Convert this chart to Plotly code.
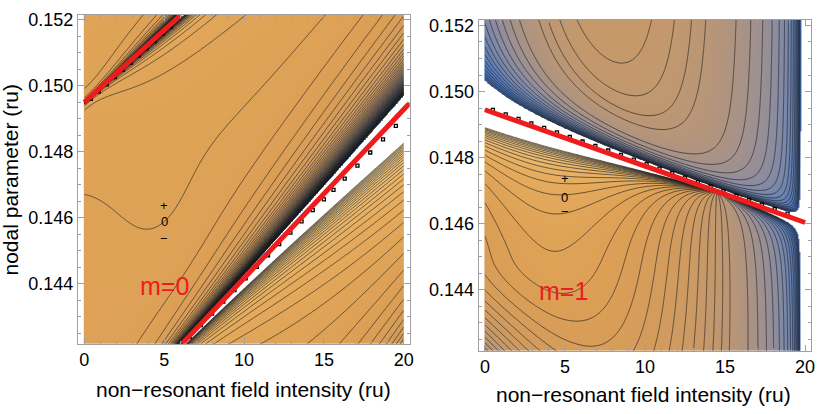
import numpy as np
import plotly.graph_objects as go

FONT = "Liberation Sans, Arial, sans-serif"

# ---------------- values ----------------
x_ticks = [0, 5, 10, 15, 20]
y_ticks = [0.144, 0.146, 0.148, 0.150, 0.152]
y_tick_text = ["0.144", "0.146", "0.148", "0.150", "0.152"]

# red resonance lines
m0_upper_x = [0.0, 6.05]
m0_upper_y = [0.14950, 0.15215]
m0_lower_x = [5.95, 20.36]
m0_lower_y = [0.14210, 0.14947]
m1_line_x = [0.0, 20.0]
m1_line_y = [0.14945, 0.14604]

# black numerical points along the resonances
m0_pts_a_x = [0.4, 0.9, 1.4, 1.9, 2.4, 2.9, 3.4, 3.9, 4.4, 4.9, 5.4]
m0_pts_a_y = [0.149605, 0.149824, 0.150043, 0.150262, 0.150481, 0.150700,
              0.150919, 0.151138, 0.151357, 0.151576, 0.151795]
m0_pts_b_x = [6.6, 7.3, 8.0, 8.7, 9.4, 10.1, 10.8, 11.5, 12.2, 12.9, 13.6,
              14.3, 15.0, 15.6, 16.3, 17.1, 17.9, 18.7, 19.5]
m0_pts_b_y = [0.142393, 0.142753, 0.143102, 0.143461, 0.143810, 0.144169,
              0.144518, 0.144867, 0.145206, 0.145555, 0.145894, 0.146234,
              0.146563, 0.146850, 0.147190, 0.147580, 0.147980, 0.148380,
              0.148790]
m1_pts_x = [0.5, 1.3, 2.1, 2.9, 3.7, 4.5, 5.3, 6.1, 6.9, 7.7, 8.5, 9.3, 10.1,
            10.9, 11.7, 12.5, 13.3, 14.1, 14.9, 15.7, 16.5, 17.3, 18.1, 18.9]
m1_pts_y = [0.149445, 0.149308, 0.149172, 0.149036, 0.148899, 0.148763,
            0.148626, 0.148490, 0.148354, 0.148217, 0.148081, 0.147944,
            0.147808, 0.147672, 0.147535, 0.147399, 0.147262, 0.147126,
            0.146990, 0.146853, 0.146717, 0.146580, 0.146444, 0.146308]

# sign labels of the zero contour
m0_sign_y = [0.14636, 0.14588, 0.14536]
m1_sign_y = [0.14736, 0.14679, 0.14636]
sign_text = ["+", "0", "\u2212"]

# contour levels (scaled units) for each panel
m0_levels = [dict(start=-0.975, end=0.975, size=0.025)]
m1_levels = [dict(start=-0.96, end=-0.06, size=0.06),
             dict(start=0.035, end=0.98, size=0.035)]

# ---------------- field model ----------------
xg = np.linspace(0.0, 20.0, 321)
yg = np.linspace(0.14214, 0.15219, 451)
X, YV = np.meshgrid(xg, yg)
Y = (YV - 0.147) * 1000.0


def line_at(xs, px, py):
    return (py[0] + (py[1] - py[0]) * (xs - px[0]) / (px[1] - px[0]) - 0.147) * 1000.0


def safe(d):
    return np.where(np.abs(d) < 1e-6, 1e-6, d)


def pole(k, d, lam=3.5):
    return -k / safe(d) * np.exp(-np.abs(d) / lam)


# m = 0 : set of resonances with field dependent coupling
yB = line_at(X, m0_lower_x, m0_lower_y)
yA = line_at(X, m0_upper_x, m0_upper_y)
P = yA - yB
yC = yB - P
kc = 0.005 + 0.0018 * X ** 2
ka = 0.005 + 0.065 * (1.0 - np.exp(-(X / 5.0) ** 2))
bump = 0.0064 * np.exp(-((X - 5.0) / 3.0) ** 2 - ((Y + 1.0) / 2.5) ** 2)
z0 = (0.45 + 0.003 * (Y + 0.1) + bump + pole(ka, Y - yA, 1.5)
      + pole(kc, Y - yB) + pole(kc, Y - yC))
z0 = np.round(np.clip(z0, -3, 3), 6)

# m = 1
y0 = line_at(X, m1_line_x, m1_line_y)
d = safe(Y - y0)
Au = 0.08 + 0.75 * np.exp(-X / 5.0)
Al = 0.026 * (14.5 - X)
wall = 0.28 / (20.05 - X)
V = 0.002 * np.maximum(X - 4.0, 0.0) ** 2
zu = 0.3 - 0.33 * np.exp(-X / 3.0) - Au / d - V - wall
pxx = np.where(X < 5, 0.004, 0.0028)
L0 = 0.40 - pxx * (X - 5.0) ** 2 - 0.04 * np.exp(-X / 4.0) * np.maximum(0.0, -Y - 2.0) ** 2
zl = L0 - Al / d - wall
z1 = np.where(d > 0, zu, zl)
z1 = np.round(np.clip(z1, -3, 3), 5)

cstops = [(-1.00, "#3c66ae"), (-0.80, "#4671b6"), (-0.60, "#5a7db8"),
          (-0.40, "#7787ad"), (-0.20, "#978f97"), (0.00, "#b5957a"),
          (0.20, "#cc9a64"), (0.40, "#db9e55"), (0.55, "#e5ab5c"),
          (0.75, "#edbf78"), (1.00, "#f5dca8")]
colorscale = [[0.0, "#ffffff"]]
for v, c in cstops:
    f = (v + 1) / 2
    f = min(max(f, 0.0002), 0.9998)
    colorscale.append([f, c])
colorscale.append([1.0, "#ffffff"])

fig = go.Figure()


def add_panel(z, lvs, xa, ya):
    fig.add_trace(go.Heatmap(x=xg, y=yg, z=z, colorscale=colorscale, zmin=-1, zmax=1,
                             zsmooth="best", showscale=False, hoverinfo="skip",
                             xaxis=xa, yaxis=ya))
    for lv in lvs:
        fig.add_trace(go.Contour(x=xg, y=yg, z=z, showscale=False, hoverinfo="skip",
                                 contours=dict(coloring="none", **lv),
                                 line=dict(color="rgba(35,35,35,0.72)", width=0.9),
                                 xaxis=xa, yaxis=ya))


add_panel(z0, m0_levels, "x", "y")
add_panel(z1, m1_levels, "x2", "y2")

mk = dict(symbol="square-open", size=3, color="black", line=dict(width=1.3, color="black"))
for px, py, xa, ya in [(m0_pts_a_x, m0_pts_a_y, "x", "y"), (m0_pts_b_x, m0_pts_b_y, "x", "y"),
                       (m1_pts_x, m1_pts_y, "x2", "y2")]:
    fig.add_trace(go.Scatter(x=px, y=py, mode="markers", marker=mk, xaxis=xa, yaxis=ya,
                             showlegend=False, hoverinfo="skip"))

red = "#ee1c1c"
for lx, ly, xa, ya in [(m0_upper_x, m0_upper_y, "x", "y"), (m0_lower_x, m0_lower_y, "x", "y"),
                       (m1_line_x, m1_line_y, "x2", "y2")]:
    fig.add_trace(go.Scatter(x=lx, y=ly, mode="lines", line=dict(color=red, width=5),
                             xaxis=xa, yaxis=ya, showlegend=False, hoverinfo="skip"))

ann = []
for yv, t in zip(m0_sign_y, sign_text):
    ann.append(dict(x=5, y=yv, xref="x", yref="y", text=t, showarrow=False,
                    xanchor="center", yanchor="middle",
                    font=dict(family=FONT, size=13, color="black")))
for yv, t in zip(m1_sign_y, sign_text):
    ann.append(dict(x=5, y=yv, xref="x2", yref="y2", text=t, showarrow=False,
                    xanchor="center", yanchor="middle",
                    font=dict(family=FONT, size=13, color="black")))
ann.append(dict(x=5, y=0.14395, xref="x", yref="y", text="m=0", showarrow=False,
                xanchor="center", yanchor="middle", font=dict(family=FONT, size=25, color=red)))
ann.append(dict(x=4.94, y=0.14397, xref="x2", yref="y2", text="m=1", showarrow=False,
                xanchor="center", yanchor="middle", font=dict(family=FONT, size=25, color=red)))
ann.append(dict(x=244.7 / 822, y=1 - 389 / 414, xref="paper", yref="paper",
                xanchor="center", yanchor="middle",
                text="non\u2212resonant field intensity (ru)", showarrow=False,
                font=dict(family=FONT, size=21, color="black")))
ann.append(dict(x=647 / 822, y=1 - 394 / 414, xref="paper", yref="paper",
                xanchor="center", yanchor="middle",
                text="non\u2212resonant field intensity (ru)", showarrow=False,
                font=dict(family=FONT, size=21, color="black")))
ann.append(dict(x=11 / 822, y=1 - 176.7 / 414, xref="paper", yref="paper",
                xanchor="center", yanchor="middle",
                text="nodal parameter (ru)", textangle=-90, showarrow=False,
                font=dict(family=FONT, size=21, color="black")))

axcol = "#a0a0a0"
common = dict(showline=True, linecolor=axcol, linewidth=1, mirror="ticks", ticks="inside",
              ticklen=6, tickcolor=axcol, showgrid=False, zeroline=False,
              tickfont=dict(family=FONT, size=18, color="black"))
fig.update_layout(
    width=822, height=414, margin=dict(l=0, r=0, t=0, b=0),
    paper_bgcolor="white", plot_bgcolor="white", showlegend=False,
    font=dict(family=FONT),
    xaxis=dict(domain=[78.3 / 822, 411.7 / 822], range=[-0.4, 20.37], anchor="y",
               tickvals=x_ticks, minor=dict(dtick=1, ticks="inside", ticklen=3, tickcolor=axcol),
               **common),
    yaxis=dict(domain=[1 - 343 / 414, 1 - 10 / 414], range=[0.142183, 0.15215], anchor="x",
               tickvals=y_ticks, ticktext=y_tick_text,
               minor=dict(dtick=0.0005, ticks="inside", ticklen=3, tickcolor=axcol), **common),
    xaxis2=dict(domain=[481 / 822, 815 / 822], range=[-0.39, 20.37], anchor="y2",
                tickvals=x_ticks, minor=dict(dtick=1, ticks="inside", ticklen=3, tickcolor=axcol),
                **common),
    yaxis2=dict(domain=[1 - 350 / 414, 1 - 15 / 414], range=[0.14216, 0.15217], anchor="x2",
                tickvals=y_ticks, ticktext=y_tick_text,
                minor=dict(dtick=0.0005, ticks="inside", ticklen=3, tickcolor=axcol), **common),
    annotations=ann,
)

fig.write_html("out.html", config={"displayModeBar": False},
               post_script="document.body.style.margin='0px';")
